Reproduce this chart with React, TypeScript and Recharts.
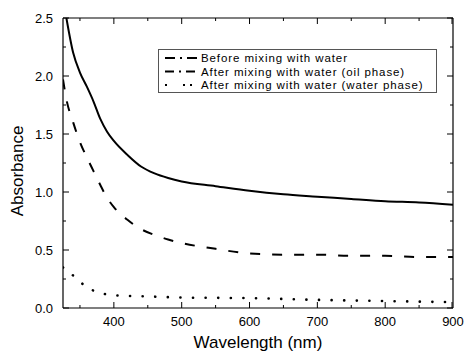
import React from 'react';
import { LineChart, Line, XAxis, YAxis, Legend } from 'recharts';

const FONT = '"Liberation Sans", Arial, Helvetica, sans-serif';

// series names (legend order)
const seriesNames = [
  'Before mixing with water',
  'After mixing with water (oil phase)',
  'After mixing with water (water phase)',
];

// top curve (solid)
const beforeWl = [330, 340, 350, 360, 370, 380, 390, 400, 420, 440, 460, 480, 500, 550, 600, 650, 700, 750, 800, 850, 900];
const beforeAbs = [2.5, 2.2, 2.03, 1.91, 1.78, 1.63, 1.52, 1.44, 1.32, 1.22, 1.16, 1.12, 1.09, 1.05, 1.01, 0.98, 0.96, 0.94, 0.92, 0.91, 0.89];

// middle curve (dashed)
const oilWl = [325, 330, 340, 350, 360, 370, 380, 390, 400, 420, 440, 460, 480, 500, 550, 600, 650, 700, 750, 800, 850, 900];
const oilAbs = [1.97, 1.8, 1.6, 1.43, 1.3, 1.18, 1.06, 0.95, 0.87, 0.76, 0.68, 0.63, 0.59, 0.56, 0.51, 0.47, 0.46, 0.46, 0.45, 0.45, 0.44, 0.44];

// bottom curve (dotted)
const waterWl = [325, 340, 360, 380, 400, 450, 500, 600, 700, 800, 900];
const waterAbs = [0.35, 0.28, 0.18, 0.13, 0.11, 0.1, 0.09, 0.085, 0.07, 0.06, 0.05];

// axis ticks
const xTicks = [400, 500, 600, 700, 800, 900];
const xAllTicks = [350, 400, 450, 500, 550, 600, 650, 700, 750, 800, 850, 900];
const yTicks = [0, 0.5, 1.0, 1.5, 2.0, 2.5];
const yAllTicks = [0, 0.25, 0.5, 0.75, 1.0, 1.25, 1.5, 1.75, 2.0, 2.25, 2.5];

const lineDash = [undefined, '10 12', '0.1 12.5'];
const legendDash = ['10 5 2 5 10 5', '9 5 2 5 9 5', '2 16 2 5 2 40'];

const toPoints = (xs: number[], ys: number[]) => xs.map((x, i) => ({ x, y: ys[i] }));
const series = [
  toPoints(beforeWl, beforeAbs),
  toPoints(oilWl, oilAbs),
  toPoints(waterWl, waterAbs),
];

const frameLine = { stroke: '#000', strokeWidth: 1.2 };

// inward tick marks on the box frame: long on labelled values, short between
const frameTick = (side: 'top' | 'bottom' | 'left' | 'right', majors: number[]) => (props: any) => {
  const { x, y, payload } = props;
  const major = majors.some((m) => Math.abs(m - payload.value) < 1e-6);
  const len = major ? 6 : 3;
  const dx = side === 'left' ? len : side === 'right' ? -len : 0;
  const dy = side === 'bottom' ? -len : side === 'top' ? len : 0;
  return <line x1={x} y1={y} x2={x + dx} y2={y + dy} stroke="#000" strokeWidth={1} />;
};

// invisible series so the frame axes get a scale with ticks
const framePairs = [
  ['bFrame', 'lFrame'],
  ['tFrame', 'rFrame'],
];

const renderLegend = () => (
  <div
    style={{
      width: 279,
      height: 44,
      boxSizing: 'border-box',
      border: '1px solid #555',
      background: '#fff',
    }}
  >
    <svg width={277} height={42} style={{ display: 'block' }}>
      {seriesNames.map((name, i) => (
        <g key={name}>
          <line
            x1={6}
            x2={38}
            y1={8 + i * 13.5}
            y2={8 + i * 13.5}
            stroke="#000"
            strokeWidth={2}
            strokeDasharray={legendDash[i]}
          />
          <text
            x={42}
            y={8 + i * 13.5}
            dominantBaseline="central"
            fontFamily={FONT}
            fontSize={11.5}
            letterSpacing={0.9}
            fill="#000"
          >
            {name}
          </text>
        </g>
      ))}
    </svg>
  </div>
);

export default function App() {
  return (
    <div style={{ position: 'absolute', left: 0, top: 0, background: '#fff' }}>
      <LineChart width={464} height={358} margin={{ top: 18, right: 11, bottom: 0, left: 0 }}>
        <XAxis
          xAxisId="main"
          type="number"
          dataKey="x"
          domain={[325, 900]}
          allowDataOverflow
          ticks={xTicks}
          tickLine={false}
          axisLine={false}
          tickSize={0}
          tickMargin={9}
          height={50}
          tick={{ fontSize: 13, fill: '#000', fontFamily: FONT }}
          label={({ viewBox }: any) => (
            <text
              x={viewBox.x + viewBox.width / 2}
              y={viewBox.y + 34}
              textAnchor="middle"
              dominantBaseline="central"
              fontFamily={FONT}
              fontSize={17}
              fill="#000"
            >
              Wavelength (nm)
            </text>
          )}
        />
        <YAxis
          yAxisId="main"
          type="number"
          domain={[0, 2.5]}
          allowDataOverflow
          ticks={yTicks}
          tickFormatter={(v: number) => v.toFixed(1)}
          tickLine={false}
          axisLine={false}
          tickSize={0}
          tickMargin={10}
          width={63}
          tick={{ fontSize: 13, fill: '#000', fontFamily: FONT }}
          label={({ viewBox }: any) => {
            const cx = viewBox.x + 17;
            const cy = viewBox.y + viewBox.height / 2 + 8;
            return (
              <text
                x={cx}
                y={cy}
                transform={`rotate(-90 ${cx} ${cy})`}
                textAnchor="middle"
                dominantBaseline="central"
                fontFamily={FONT}
                fontSize={17}
                fill="#000"
              >
                Absorbance
              </text>
            );
          }}
        />

        {/* box frame with inward major / minor ticks */}
        <XAxis xAxisId="bFrame" orientation="bottom" mirror type="number" dataKey="x" domain={[325, 900]} allowDataOverflow
          ticks={xAllTicks} tick={frameTick('bottom', xTicks)} tickSize={0} tickMargin={0} tickLine={false} axisLine={frameLine} />
        <XAxis xAxisId="tFrame" orientation="top" mirror type="number" dataKey="x" domain={[325, 900]} allowDataOverflow
          ticks={xAllTicks} tick={frameTick('top', xTicks)} tickSize={0} tickMargin={0} tickLine={false} axisLine={frameLine} />
        <YAxis yAxisId="lFrame" orientation="left" mirror type="number" domain={[0, 2.5]} allowDataOverflow
          ticks={yAllTicks} tick={frameTick('left', yTicks)} tickSize={0} tickMargin={0} tickLine={false} axisLine={frameLine} />
        <YAxis yAxisId="rFrame" orientation="right" mirror type="number" domain={[0, 2.5]} allowDataOverflow
          ticks={yAllTicks} tick={frameTick('right', yTicks)} tickSize={0} tickMargin={0} tickLine={false} axisLine={frameLine} />

        {framePairs.map(([xa, ya]) => (
          <Line
            key={xa}
            xAxisId={xa}
            yAxisId={ya}
            data={series[0]}
            dataKey="y"
            stroke="none"
            legendType="none"
            dot={false}
            activeDot={false}
            isAnimationActive={false}
          />
        ))}

        <Legend
          layout="vertical"
          align="center"
          verticalAlign="middle"
          content={renderLegend}
          wrapperStyle={{ left: 158, top: 49, width: 279, height: 44 }}
        />

        {series.map((pts, i) => (
          <Line
            key={seriesNames[i]}
            xAxisId="main"
            yAxisId="main"
            data={pts}
            dataKey="y"
            name={seriesNames[i]}
            type="monotone"
            stroke="#000"
            strokeWidth={i === 2 ? 2.6 : 2}
            strokeDasharray={lineDash[i]}
            strokeLinecap={i === 2 ? 'round' : 'butt'}
            dot={false}
            activeDot={false}
            isAnimationActive={false}
          />
        ))}
      </LineChart>
    </div>
  );
}
